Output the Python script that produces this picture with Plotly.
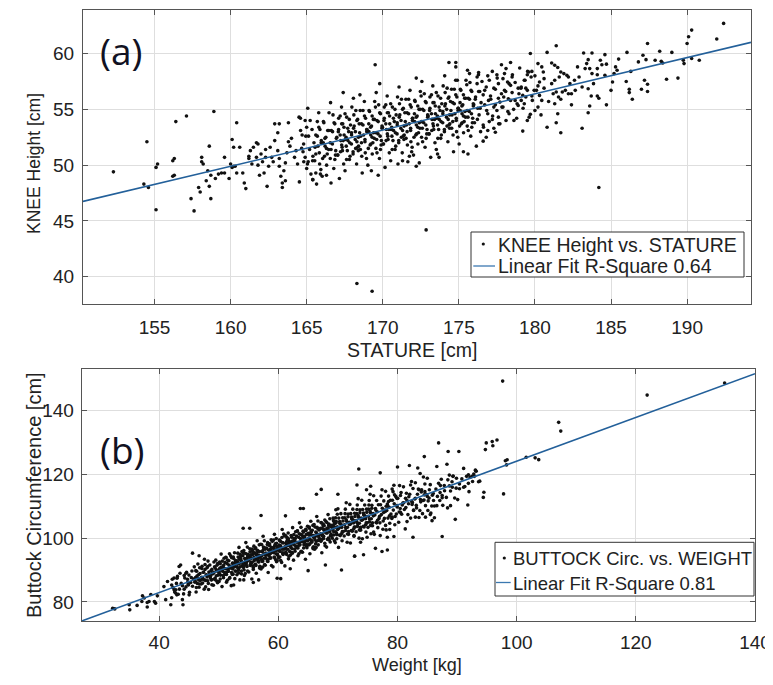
import plotly.graph_objects as go

# page is 773x685; plotly page body has an 8px margin, so the figure is 765x677 at (8, 8)
PAGE_W, PAGE_H = 773, 685
OFF = 8
W, H = PAGE_W - OFF, PAGE_H - OFF

# ---------------- Panel (a): KNEE Height vs STATURE (cm) ----------------
knee_left = [(152.3,49.4),(154.5,52.1),(154.3,48.3),(154.6,48.0),(155.1,46.0),(155.1,49.8),(155.2,50.1),(156.2,50.4),(156.3,50.6),(156.4,53.9),
 (156.2,49.0),(156.3,49.1),(157.1,54.4),(157.4,47.0),(157.6,45.9),(157.9,48.0),(158.0,47.6),(158.1,50.7),(158.1,50.3),(158.2,50.1),
 (158.4,48.6),(158.6,51.7),(158.6,48.1),(158.7,47.0),(158.9,54.8),(158.5,49.5),(158.7,49.1),(159.0,48.8),(159.2,49.2),(159.4,49.3),
 (159.6,50.7),(159.6,49.3),(159.9,48.8),(160.0,50.1),(160.1,49.8),(160.2,49.9),(160.3,49.9),(160.1,52.3),(160.2,51.6),(160.6,51.6),
 (160.4,53.8),(160.4,49.3),(160.8,49.3),(160.9,48.4),(161.0,47.9),(161.2,50.8),(161.2,50.6),(161.4,50.1),(161.3,51.3),(161.5,51.6),
 (161.7,52.0),(161.8,51.9),(161.7,50.7),(161.8,50.0),(161.9,49.1),(162.0,51.0),(162.1,50.3),(162.2,49.3),(162.3,51.4),(162.3,50.7),
 (162.5,49.9),(162.4,48.1),(162.6,51.6),(162.7,50.7),(162.8,50.3),(162.9,53.7),(163.2,53.7),(162.9,52.2),(163.1,52.9),(163.1,51.3),
 (163.2,50.6),(163.2,49.9),(163.3,49.0),(163.4,48.4),(163.4,48.0),(163.6,48.6),(163.5,49.5),(163.6,50.2),(163.7,51.1),(163.8,53.8),
 (163.8,52.1),(163.9,51.7),(164.0,52.4),(164.2,50.7),(164.3,51.3),(164.4,50.1),(164.5,54.3),(164.6,53.1),(164.7,52.7),(164.8,51.9),
 (164.9,50.7),(164.9,54.0),(165.0,53.4),(165.0,49.7),(165.1,50.3),(165.4,48.7)]

knee_core_lo = [
 (164.52,48.5),(164.81,50.3),(164.67,51.5),(164.94,52.6),(164.59,54.2),(164.76,51.2),
 (165.28,49.2),(165.05,50.1),(165.41,50.8),(165.19,51.4),(165.48,52.0),(165.12,52.6),(165.35,53.2),(165.23,54.0),(165.07,55.1),(165.39,50.4),
 (165.65,48.3),(165.93,49.6),(165.53,50.4),(165.83,51.1),(165.74,51.7),(165.96,52.2),(165.60,52.7),(165.87,53.2),(165.70,53.9),(165.79,54.7),
 (166.02,49.0),(166.31,50.0),(166.17,50.8),(166.44,51.4),(166.09,52.0),(166.26,52.5),(166.38,53.1),(166.13,53.8),(166.47,54.7),(166.21,51.7),
 (166.78,49.7),(166.55,50.6),(166.91,51.3),(166.69,51.9),(166.98,52.5),(166.62,53.1),(166.85,53.7),(166.73,54.5),(166.57,55.6),(166.89,50.9),
 (167.15,48.8),(167.43,50.1),(167.03,50.9),(167.33,51.6),(167.24,52.2),(167.46,52.7),(167.10,53.2),(167.37,53.7),(167.20,54.4),(167.29,55.2),
 (167.52,49.5),(167.81,50.5),(167.67,51.3),(167.94,51.9),(167.59,52.5),(167.76,53.0),(167.88,53.6),(167.63,54.3),(167.97,55.2),(167.71,52.2),
 (168.28,50.1),(168.05,51.0),(168.41,51.7),(168.19,52.3),(168.48,52.9),(168.12,53.5),(168.35,54.1),(168.23,54.9),(168.07,56.0),(168.39,51.3),
 (168.65,49.3),(168.93,50.6),(168.53,51.4),(168.83,52.1),(168.74,52.7),(168.96,53.2),(168.60,53.7),(168.87,54.2),(168.70,54.9),(168.79,55.7),
 (169.02,50.0),(169.31,51.0),(169.17,51.8),(169.44,52.4),(169.09,53.0),(169.26,53.5),(169.38,54.1),(169.13,54.8),(169.47,55.7),(169.21,52.7),
 (169.78,50.6),(169.55,51.5),(169.91,52.2),(169.69,52.8),(169.98,53.4),(169.62,54.0),(169.85,54.6),(169.73,55.4),(169.57,56.5),(169.89,51.8),
 (170.15,49.8),(170.43,51.1),(170.03,51.9),(170.33,52.6),(170.24,53.2),(170.46,53.7),(170.10,54.2),(170.37,54.7),(170.20,55.4),(170.29,56.2)]

knee_core_hi = [
 (170.52,50.4),(170.81,51.4),(170.67,52.2),(170.94,52.8),(170.59,53.4),(170.76,53.9),(170.88,54.5),(170.63,55.2),(170.97,56.1),(170.71,53.1),
 (171.28,51.1),(171.05,52.0),(171.41,52.7),(171.19,53.3),(171.48,53.9),(171.12,54.5),(171.35,55.1),(171.23,55.9),(171.07,57.0),(171.39,52.3),
 (171.65,50.3),(171.93,51.6),(171.53,52.4),(171.83,53.1),(171.74,53.7),(171.96,54.2),(171.60,54.7),(171.87,55.2),(171.70,55.9),(171.79,56.7),
 (172.02,50.9),(172.31,51.9),(172.17,52.7),(172.44,53.3),(172.09,53.9),(172.26,54.4),(172.38,55.0),(172.13,55.7),(172.47,56.6),(172.21,53.6),
 (172.78,51.6),(172.55,52.5),(172.91,53.2),(172.69,53.8),(172.98,54.4),(172.62,55.0),(172.85,55.6),(172.73,56.4),(172.57,57.5),(172.89,52.8),
 (173.15,50.7),(173.43,52.0),(173.03,52.8),(173.33,53.5),(173.24,54.1),(173.46,54.6),(173.10,55.1),(173.37,55.6),(173.20,56.3),(173.29,57.1),
 (173.52,51.4),(173.81,52.4),(173.67,53.2),(173.94,53.8),(173.59,54.4),(173.76,54.9),(173.88,55.5),(173.63,56.2),(173.97,57.1),(173.71,54.1),
 (174.28,52.1),(174.05,53.0),(174.41,53.7),(174.19,54.3),(174.48,54.9),(174.12,55.5),(174.35,56.1),(174.23,56.9),(174.07,58.0),(174.39,53.3),
 (174.65,51.2),(174.93,52.5),(174.53,53.3),(174.83,54.0),(174.74,54.6),(174.96,55.1),(174.60,55.6),(174.87,56.1),(174.70,56.8),(174.79,57.6),
 (175.02,51.9),(175.31,52.9),(175.17,53.7),(175.44,54.3),(175.09,54.9),(175.26,55.4),(175.38,56.0),(175.13,56.7),(175.47,57.6),(175.21,54.6),
 (175.78,52.6),(175.55,53.5),(175.91,54.2),(175.69,54.8),(175.98,55.4),(175.62,56.0),(175.85,56.6),(175.73,57.4),(175.57,58.5),(175.89,53.8),
 (176.15,51.7),(176.43,53.0),(176.03,53.8),(176.33,54.5),(176.24,55.1),(176.46,55.6),(176.10,56.1),(176.37,56.6),(176.20,57.3),(176.29,58.1)]

knee_core_mid = [
 (165.85,50.1),(165.60,51.0),(165.95,52.0),(165.70,52.6),(165.80,53.4),(165.55,51.6),
 (166.05,50.6),(166.30,51.5),(166.20,52.4),(166.45,53.1),(166.10,53.9),(166.35,51.0),
 (166.85,50.5),(166.60,51.4),(166.95,52.4),(166.70,53.0),(166.80,53.8),(166.55,52.0),
 (167.05,50.9),(167.30,51.8),(167.20,52.7),(167.45,53.4),(167.10,54.2),(167.35,51.3),
 (167.85,50.8),(167.60,51.7),(167.95,52.7),(167.70,53.3),(167.80,54.1),(167.55,52.3),
 (168.05,51.2),(168.30,52.1),(168.20,53.0),(168.45,53.7),(168.10,54.5),(168.35,51.6),
 (168.85,51.1),(168.60,52.0),(168.95,53.0),(168.70,53.6),(168.80,54.4),(168.55,52.6),
 (169.05,51.5),(169.30,52.5),(169.20,53.4),(169.45,54.1),(169.10,54.9),(169.35,52.0),
 (169.85,51.4),(169.60,52.3),(169.95,53.3),(169.70,53.9),(169.80,54.7),(169.55,52.9),
 (170.05,51.9),(170.30,52.8),(170.20,53.7),(170.45,54.4),(170.10,55.2),(170.35,52.3),
 (170.85,51.7),(170.60,52.6),(170.95,53.6),(170.70,54.2),(170.80,55.0),(170.55,53.2),
 (171.05,52.2),(171.30,53.1),(171.20,54.0),(171.45,54.7),(171.10,55.5),(171.35,52.6),
 (171.85,52.1),(171.60,53.0),(171.95,54.0),(171.70,54.6),(171.80,55.4),(171.55,53.6),
 (172.05,52.5),(172.30,53.4),(172.20,54.3),(172.45,55.0),(172.10,55.8),(172.35,52.9),
 (172.85,52.4),(172.60,53.3),(172.95,54.3),(172.70,54.9),(172.80,55.7),(172.55,53.9),
 (173.05,52.8),(173.30,53.7),(173.20,54.6),(173.45,55.3),(173.10,56.1),(173.35,53.2),
 (173.85,52.7),(173.60,53.6),(173.95,54.6),(173.70,55.2),(173.80,56.0),(173.55,54.2),
 (174.05,53.2),(174.30,54.1),(174.20,55.0),(174.45,55.7),(174.10,56.5),(174.35,53.6),
 (174.85,53.0),(174.60,53.9),(174.95,54.9),(174.70,55.5),(174.80,56.3),(174.55,54.5),
 (175.05,53.5),(175.30,54.4),(175.20,55.3),(175.45,56.0),(175.10,56.8),(175.35,53.9),
 (175.85,53.4),(175.60,54.3),(175.95,55.3),(175.70,55.9),(175.80,56.7),(175.55,54.9)]

knee_core_band = [
 (167.22,51.2),(167.40,52.2),(167.08,53.0),(167.30,53.7),(167.62,50.5),(167.83,52.0),(167.95,52.9),(167.52,54.6),
 (168.22,51.5),(168.40,52.5),(168.08,53.3),(168.30,54.0),(168.62,50.8),(168.83,52.3),(168.95,53.2),(168.52,54.9),
 (169.22,51.9),(169.40,52.9),(169.08,53.7),(169.30,54.4),(169.62,51.1),(169.83,52.6),(169.95,53.5),(169.52,55.2),
 (170.22,52.2),(170.40,53.2),(170.08,54.0),(170.30,54.7),(170.62,51.4),(170.83,52.9),(170.95,53.8),(170.52,55.5),
 (171.22,52.5),(171.40,53.5),(171.08,54.3),(171.30,55.0),(171.62,51.8),(171.83,53.3),(171.95,54.2),(171.52,55.9),
 (172.22,52.8),(172.40,53.8),(172.08,54.6),(172.30,55.3),(172.62,52.1),(172.83,53.6),(172.95,54.5),(172.52,56.2),
 (173.22,53.1),(173.40,54.1),(173.08,54.9),(173.30,55.6),(173.62,52.4),(173.83,53.9),(173.95,54.8),(173.52,56.5),
 (174.22,53.5),(174.40,54.5),(174.08,55.3),(174.30,56.0),(174.62,52.7),(174.83,54.2),(174.95,55.1),(174.52,56.8),
 (175.22,53.8),(175.40,54.8),(175.08,55.6),(175.30,56.3),(175.62,53.1),(175.83,54.6),(175.95,55.5),(175.52,57.2),
 (176.22,54.1),(176.40,55.1),(176.08,55.9),(176.30,56.6),(176.62,53.4),(176.83,54.9),(176.95,55.8),(176.52,57.5),
 (177.22,54.4),(177.40,55.4),(177.08,56.2),(177.30,56.9),(177.62,53.7),(177.83,55.2),(177.95,56.1),(177.52,57.8),
 (178.22,54.8),(178.40,55.8),(178.08,56.6),(178.30,57.3),(178.62,54.0),(178.83,55.5),(178.95,56.4),(178.52,58.1),
 (179.22,55.1),(179.40,56.1),(179.08,56.9),(179.30,57.6),(179.62,54.3),(179.83,55.8),(179.95,56.7),(179.52,58.4)]

knee_right = [(192.4,62.7),(191.95,61.3),(190.3,62.1),(190.1,61.5),(190.0,60.9),(190.3,59.55),(190.8,59.4),(189.8,59.1),(189.75,59.4),(189.0,60.1),
 (189.4,57.8),(188.65,57.7),(188.2,60.2),(188.3,59.3),(188.4,59.15),(187.9,59.4),(187.4,60.9),(187.1,59.85),(187.3,59.45),(187.2,57.6),
 (187.4,57.25),(187.0,56.8),(187.4,56.6),(186.8,59.25),(186.05,60.1),(186.3,58.4),(186.2,56.8),(186.2,56.5),(186.4,55.9),(186.0,57.5),
 (185.5,59.5),(185.4,58.5),(185.3,58.8),(185.2,58.2),(185.1,57.45),(185.0,56.7),(184.6,59.9),(184.3,59.4),(184.1,58.65),(184.1,58.1),
 (184.4,59.0),(184.7,59.05),(184.6,58.05),(184.7,55.4),(184.2,48.0),(183.75,60.05),(183.5,59.45),(183.4,59.1),(183.6,58.65),(183.75,58.2),
 (183.85,57.3),(183.5,56.85),(183.7,56.2),(184.1,56.2),(184.2,56.0),(183.6,55.3),(183.5,54.7),(183.2,60.05),(183.3,58.65),(183.1,53.3),
 (182.8,58.8),(182.9,57.9),(182.65,56.7),(182.4,56.4),(182.4,55.4),(182.2,56.4),(182.3,57.3),(182.0,56.7),(181.8,56.55),(181.7,52.9),
 (181.4,60.7),(181.7,58.35),(181.9,58.2),(182.1,58.05),(182.2,57.9),(181.1,59.15),(181.3,58.95),(181.5,58.75),(181.6,57.9),(181.3,57.6),
 (181.1,57.3),(181.2,56.4),(181.4,56.55),(181.55,56.1),(181.3,55.5),(181.5,54.6),(181.4,53.8),(180.8,53.4),(180.8,60.1),(180.2,59.1),
 (180.45,58.8),(180.55,58.35),(180.6,57.75),(180.3,57.45),(180.2,57.1),(180.1,56.7),(180.3,56.25),(180.45,55.8),(180.2,55.2),(180.0,54.9),
 (179.7,54.55),(179.7,60.0),(179.8,58.4),(179.6,58.35),(179.5,58.1),(179.75,57.9),(179.35,57.6),(179.1,57.0),(179.5,56.7),(179.2,56.25),
 (179.1,55.8),(178.9,55.35),(178.7,55.8),(179.2,53.05),(178.1,58.65),(178.0,58.2),(177.9,57.75),(178.2,57.45),(178.4,57.15),(178.0,56.7),
 (177.8,56.4),(178.25,55.95),(177.7,55.65),(177.9,55.2),(177.5,54.9),(177.6,54.3),(177.7,53.7),(177.4,52.95),(176.9,53.1),(176.8,52.5),
 (176.6,52.15),(177.2,58.4),(177.5,58.1),(177.0,57.6),(176.8,57.0),(177.4,56.8),(176.6,56.3),(177.1,55.9),(176.7,55.4),(177.3,55.2),
 (176.9,54.6),(177.2,54.1),(176.6,53.6),(177.0,53.9),(177.6,56.0),(178.5,56.5),(178.6,55.0),(178.3,54.6),(178.9,56.9),(179.3,55.5),
 (179.8,56.2),(180.6,56.9),(180.9,55.7),(181.7,55.9),(182.6,57.6),(183.1,57.0),(178.7,57.4),(179.0,58.7),(178.4,59.2),(177.8,59.0),
 (176.9,58.0),(177.3,53.3),(178.1,54.0),(178.8,54.2),(179.5,54.0),(180.4,54.5),(176.7,56.7),(177.6,57.3),(178.5,57.9),(179.4,56.9),(180.0,58.0)]

knee_outliers = [(169.5,59.0),(169.8,57.3),(167.4,56.5),(168.5,56.3),(172.2,57.8),(174.35,59.2),(174.8,59.2),(174.8,58.8),(174.9,57.6),(175.7,58.2),
 (176.2,57.9),(176.3,58.3),(172.85,44.2),(168.3,39.4),(169.3,38.7),(166.6,48.4),(165.4,48.7),(165.6,49.3),(165.9,49.2),(166.3,49.1),
 (169.25,49.5),(169.7,49.1),(171.0,50.1),(171.3,50.4),(172.2,49.9),(172.4,50.2),(173.6,51.0),(173.7,50.7),(175.3,51.2),(175.6,51.0),
 (171.75,50.8),(171.9,51.2)]

fit_a_x = [150.3, 194.2]
fit_a_y = [46.75, 61.0]

# ---------------- Panel (b): Buttock Circumference (cm) vs Weight (kg) ----------------
buttock_low = [(32.2,78.0),(32.55,77.8),(34.96,79.1),(35.07,77.5),(37.2,81.9),(37.5,81.2),(37.1,80.1),(38.0,79.8),(38.0,78.4),(38.3,80.1),
 (39.4,79.6),(39.7,81.9),(40.8,84.8),(41.1,80.7),(41.95,79.1),(41.4,86.4),(42.2,87.1),(42.1,85.3),(42.5,83.8),(42.8,82.7),
 (42.96,82.2),(43.35,91.1),(43.6,91.6),(43.07,88.0),(43.9,80.7),(44.0,79.1),(44.2,84.0),(44.5,89.0),(44.75,87.1),(44.9,85.3),
 (45.03,82.2),(45.6,95.3),(46.7,94.5),(36.3,78.9),(38.6,82.3),(39.2,80.1),
 (42.1,81.3),(42.6,83.1),(42.3,84.5),(42.9,85.8),(42.5,87.5),(42.8,83.8),
 (43.2,82.4),(43.7,85.8),(43.4,84.0),(43.0,87.4),(43.9,85.1),(43.5,89.0),
 (44.1,82.5),(44.5,84.7),(44.8,86.2),(44.3,87.5),(44.6,89.3),(44.9,85.5),(44.2,88.3),
 (45.1,83.0),(45.6,84.9),(45.3,86.1),(45.8,87.2),(45.0,88.4),(45.5,89.7),(45.9,91.0),(45.4,87.6)]

buttock_core_40s = [
 (46.2,83.1),(46.7,84.6),(46.4,85.8),(46.9,86.7),(46.1,87.6),(46.6,88.5),(46.3,89.6),(46.8,90.7),(46.5,91.9),(46.0,86.2),
 (47.55,84.0),(47.05,85.6),(47.8,86.7),(47.3,87.6),(47.95,88.4),(47.45,89.3),(47.15,90.5),(47.7,91.7),(47.25,87.1),(47.6,93.4),
 (48.3,83.9),(48.85,85.4),(48.15,86.6),(48.6,87.5),(48.4,88.3),(48.95,89.0),(48.7,89.8),(48.05,90.7),(48.5,91.6),(48.2,92.8),(48.8,87.0),(48.45,88.6),
 (49.1,85.2),(49.7,86.5),(49.4,87.5),(49.9,88.4),(49.2,89.3),(49.6,90.1),(49.3,91.0),(49.8,92.0),(49.5,93.1),(49.0,88.8),(49.65,89.7),(49.35,87.0),
 (50.55,84.8),(50.05,86.4),(50.8,87.6),(50.3,88.4),(50.95,89.2),(50.45,89.9),(50.15,90.5),(50.7,91.2),(50.25,92.0),(50.6,92.8),(50.9,93.7),(50.4,95.0),(50.1,88.8),(50.75,90.7),
 (51.3,86.2),(51.85,87.6),(51.15,88.7),(51.6,89.6),(51.4,90.3),(51.95,90.9),(51.7,91.6),(51.05,92.4),(51.5,93.1),(51.2,94.0),(51.8,95.1),(51.45,86.8),(51.65,90.5),(51.25,89.2)]

buttock_core_50s = [
 (52.10,85.1),(52.70,87.3),(52.40,88.7),(52.90,89.6),(52.20,90.8),(52.60,91.5),(52.30,92.1),(52.80,92.8),(52.50,93.6),(52.00,94.5),(52.65,95.4),(52.35,90.3),(52.85,92.4),(52.15,89.2),(52.55,91.8),(52.45,94.1),
 (53.55,86.9),(53.05,88.5),(53.80,89.7),(53.30,90.5),(53.95,91.3),(53.45,92.0),(53.15,92.6),(53.70,93.3),(53.25,94.1),(53.60,94.9),(53.90,95.8),(53.40,97.1),(53.10,90.9),(53.75,92.8),(53.35,89.1),(53.65,93.7),
 (54.30,88.3),(54.85,89.7),(54.15,90.8),(54.60,91.7),(54.40,92.4),(54.95,93.0),(54.70,93.7),(54.05,94.5),(54.50,95.2),(54.20,96.1),(54.80,97.2),(54.45,88.9),(54.65,92.6),(54.25,91.3),(54.90,94.9),(54.55,98.6),
 (55.55,87.2),(55.05,89.4),(55.80,90.8),(55.30,91.7),(55.95,92.9),(55.45,93.6),(55.15,94.2),(55.70,94.9),(55.25,95.7),(55.60,96.6),(55.90,97.5),(55.40,92.4),(55.10,94.5),(55.75,91.3),(55.35,93.9),(55.65,96.2),
 (56.30,89.0),(56.85,90.6),(56.15,91.8),(56.60,92.6),(56.40,93.4),(56.95,94.1),(56.70,94.7),(56.05,95.4),(56.50,96.2),(56.20,97.0),(56.80,97.9),(56.45,99.2),(56.65,93.0),(56.25,94.9),(56.90,91.2),(56.55,95.8),
 (57.10,90.3),(57.70,91.7),(57.40,92.8),(57.90,93.7),(57.20,94.4),(57.60,95.0),(57.30,95.7),(57.80,96.5),(57.50,97.2),(57.00,98.1),(57.65,99.2),(57.35,90.9),(57.85,94.6),(57.15,93.3),(57.55,96.9),(57.45,100.6),
 (58.30,89.2),(58.85,91.4),(58.15,92.8),(58.60,93.7),(58.40,94.9),(58.95,95.6),(58.70,96.2),(58.05,96.9),(58.50,97.7),(58.20,98.6),(58.80,99.5),(58.45,94.4),(58.65,96.5),(58.25,93.3),(58.90,95.9),(58.55,98.2),
 (59.10,91.0),(59.70,92.6),(59.40,93.8),(59.90,94.6),(59.20,95.4),(59.60,96.1),(59.30,96.7),(59.80,97.4),(59.50,98.2),(59.00,99.0),(59.65,99.9),(59.35,101.2),(59.85,95.0),(59.15,96.9),(59.55,93.2),(59.45,97.8)]

buttock_core_60s = [
 (60.55,92.4),(60.05,93.8),(60.80,94.9),(60.30,95.8),(60.95,96.5),(60.45,97.1),(60.15,97.8),(60.70,98.6),(60.25,99.3),(60.60,100.2),(60.90,101.3),(60.40,93.0),(60.10,96.7),(60.75,95.4),(60.35,99.0),(60.65,102.7),
 (61.10,91.3),(61.70,93.5),(61.40,94.9),(61.90,95.8),(61.20,97.0),(61.60,97.7),(61.30,98.3),(61.80,99.0),(61.50,99.8),(61.00,100.7),(61.65,101.6),(61.35,96.5),(61.85,98.6),(61.15,95.4),(61.55,98.0),(61.45,100.3),
 (62.55,93.1),(62.05,94.7),(62.80,95.9),(62.30,96.7),(62.95,97.5),(62.45,98.2),(62.15,98.8),(62.70,99.5),(62.25,100.3),(62.60,101.1),(62.90,102.0),(62.40,103.3),(62.10,97.1),(62.75,99.0),(62.35,95.3),(62.65,99.9),
 (63.30,94.5),(63.85,95.9),(63.15,97.0),(63.60,97.9),(63.40,98.6),(63.95,99.2),(63.70,99.9),(63.05,100.7),(63.50,101.4),(63.20,102.3),(63.80,103.4),(63.45,95.1),(63.65,98.8),(63.25,97.5),(63.90,101.1),(63.55,104.8),
 (64.55,93.4),(64.05,95.6),(64.80,97.0),(64.30,97.9),(64.95,99.1),(64.45,99.8),(64.15,100.4),(64.70,101.1),(64.25,101.9),(64.60,102.8),(64.90,103.7),(64.40,98.6),(64.10,100.7),(64.75,97.5),(64.35,100.1),(64.65,102.4),
 (65.30,95.1),(65.85,96.7),(65.15,97.9),(65.60,98.7),(65.40,99.5),(65.95,100.2),(65.70,100.8),(65.05,101.5),(65.50,102.3),(65.20,103.1),(65.80,104.0),(65.45,105.3),(65.65,99.1),(65.25,101.0),(65.90,97.3),(65.55,101.9),
 (66.10,96.5),(66.70,97.9),(66.40,99.0),(66.90,99.9),(66.20,100.6),(66.60,101.2),(66.30,101.9),(66.80,102.7),(66.50,103.4),(66.00,104.3),(66.65,105.4),(66.35,97.1),(66.85,100.8),(66.15,99.5),(66.55,103.1),(66.45,106.8),
 (67.30,95.4),(67.85,97.6),(67.15,99.0),(67.60,99.9),(67.40,101.1),(67.95,101.8),(67.70,102.4),(67.05,103.1),(67.50,103.9),(67.20,104.8),(67.80,105.7),(67.45,100.6),(67.65,102.7),(67.25,99.5),(67.90,102.1),(67.55,104.4),
 (68.10,97.2),(68.70,98.8),(68.40,100.0),(68.90,100.8),(68.20,101.6),(68.60,102.3),(68.30,102.9),(68.80,103.6),(68.50,104.4),(68.00,105.2),(68.65,106.1),(68.35,107.4),(68.85,101.2),(68.15,103.1),(68.55,99.4),(68.45,104.0),
 (69.55,98.6),(69.05,100.0),(69.80,101.1),(69.30,102.0),(69.95,102.7),(69.45,103.3),(69.15,104.0),(69.70,104.8),(69.25,105.5),(69.60,106.4),(69.90,107.5),(69.40,99.2),(69.10,102.9),(69.75,101.6),(69.35,105.2),(69.65,108.9)]

buttock_core_70s = [
 (70.1,97.1),(70.7,99.2),(70.4,100.8),(70.9,102.1),(70.2,103.2),(70.6,104.2),(70.3,105.2),(70.8,106.4),(70.5,107.7),(70.0,109.2),(70.65,101.5),(70.35,104.7),
 (71.55,98.7),(71.05,100.7),(71.8,102.1),(71.3,103.3),(71.95,104.3),(71.45,105.3),(71.15,106.4),(71.7,107.6),(71.25,109.1),(71.6,101.3),(71.9,104.7),(71.4,111.1),
 (72.1,98.5),(72.7,100.6),(72.4,102.2),(72.9,103.5),(72.2,104.6),(72.6,105.6),(72.3,106.6),(72.8,107.8),(72.5,109.1),(72.0,110.6),(72.65,102.9),(72.35,106.1),
 (73.55,100.0),(73.05,102.0),(73.8,103.4),(73.3,104.6),(73.95,105.6),(73.45,106.6),(73.15,107.7),(73.7,108.9),(73.25,110.4),(73.6,102.6),(73.9,106.0),(73.4,112.4),
 (74.1,99.8),(74.7,101.9),(74.4,103.5),(74.9,104.8),(74.2,105.9),(74.6,106.9),(74.3,107.9),(74.8,109.1),(74.5,110.4),(74.0,111.9),(74.65,104.2),(74.35,107.4),
 (75.55,101.4),(75.05,103.4),(75.8,104.8),(75.3,106.0),(75.95,107.0),(75.45,108.0),(75.15,109.1),(75.7,110.3),(75.25,111.8),(75.6,104.0),(75.9,107.4),(75.4,113.8),
 (76.1,101.2),(76.7,103.3),(76.4,104.9),(76.9,106.2),(76.2,107.3),(76.6,108.3),(76.3,109.3),(76.8,110.5),(76.5,111.8),(76.0,113.3),(76.65,105.6),(76.35,108.8),
 (77.55,102.8),(77.05,104.8),(77.8,106.2),(77.3,107.4),(77.95,108.4),(77.45,109.4),(77.15,110.5),(77.7,111.7),(77.25,113.2),(77.6,105.4),(77.9,108.8),(77.4,115.2),
 (78.1,102.6),(78.7,104.7),(78.4,106.3),(78.9,107.6),(78.2,108.7),(78.6,109.7),(78.3,110.7),(78.8,111.9),(78.5,113.2),(78.0,114.7),(78.65,107.0),(78.35,110.2),
 (79.55,104.2),(79.05,106.2),(79.8,107.6),(79.3,108.8),(79.95,109.8),(79.45,110.8),(79.15,111.9),(79.7,113.1),(79.25,114.6),(79.6,106.8),(79.9,110.2),(79.4,116.6)]

buttock_core_band = [
 (46.25,84.5),(46.75,85.6),(46.05,86.5),(46.55,87.3),(46.35,88.1),(46.85,88.9),(46.15,89.8),(46.65,86.9),
 (47.80,84.7),(47.30,85.9),(47.60,86.9),(47.10,87.7),(47.90,88.5),(47.40,89.3),(47.70,90.2),(47.20,91.2),
 (48.25,85.8),(48.75,86.9),(48.05,87.8),(48.55,88.6),(48.35,89.4),(48.85,90.2),(48.15,91.1),(48.65,88.2),
 (49.80,86.0),(49.30,87.2),(49.60,88.2),(49.10,89.0),(49.90,89.8),(49.40,90.6),(49.70,91.5),(49.20,92.5),
 (50.25,87.2),(50.75,88.3),(50.05,89.2),(50.55,90.0),(50.35,90.8),(50.85,91.6),(50.15,92.5),(50.65,89.6),
 (51.80,87.4),(51.30,88.6),(51.60,89.6),(51.10,90.4),(51.90,91.2),(51.40,92.0),(51.70,92.9),(51.20,93.9),
 (52.25,88.6),(52.75,89.7),(52.05,90.6),(52.55,91.4),(52.35,92.2),(52.85,93.0),(52.15,93.9),(52.65,91.0),
 (53.80,88.8),(53.30,90.0),(53.60,91.0),(53.10,91.8),(53.90,92.6),(53.40,93.4),(53.70,94.3),(53.20,95.3),
 (54.25,90.0),(54.75,91.1),(54.05,92.0),(54.55,92.8),(54.35,93.6),(54.85,94.4),(54.15,95.3),(54.65,92.4),
 (55.80,90.2),(55.30,91.4),(55.60,92.4),(55.10,93.2),(55.90,94.0),(55.40,94.8),(55.70,95.7),(55.20,96.7),
 (56.25,91.4),(56.75,92.5),(56.05,93.4),(56.55,94.2),(56.35,95.0),(56.85,95.8),(56.15,96.7),(56.65,93.8),
 (57.80,91.5),(57.30,92.7),(57.60,93.7),(57.10,94.5),(57.90,95.3),(57.40,96.1),(57.70,97.0),(57.20,98.0),
 (58.25,92.7),(58.75,93.8),(58.05,94.7),(58.55,95.5),(58.35,96.3),(58.85,97.1),(58.15,98.0),(58.65,95.1),
 (59.80,92.9),(59.30,94.1),(59.60,95.1),(59.10,95.9),(59.90,96.7),(59.40,97.5),(59.70,98.4),(59.20,99.4),
 (60.25,94.1),(60.75,95.2),(60.05,96.1),(60.55,96.9),(60.35,97.7),(60.85,98.5),(60.15,99.4),(60.65,96.5),
 (61.80,94.3),(61.30,95.5),(61.60,96.5),(61.10,97.3),(61.90,98.1),(61.40,98.9),(61.70,99.8),(61.20,100.8),
 (62.25,95.5),(62.75,96.6),(62.05,97.5),(62.55,98.3),(62.35,99.1),(62.85,99.9),(62.15,100.8),(62.65,97.9),
 (63.80,95.7),(63.30,96.9),(63.60,97.9),(63.10,98.7),(63.90,99.5),(63.40,100.3),(63.70,101.2),(63.20,102.2),
 (64.25,96.9),(64.75,98.0),(64.05,98.9),(64.55,99.7),(64.35,100.5),(64.85,101.3),(64.15,102.2),(64.65,99.3),
 (65.80,97.0),(65.30,98.2),(65.60,99.2),(65.10,100.0),(65.90,100.8),(65.40,101.6),(65.70,102.5),(65.20,103.5),
 (66.25,98.2),(66.75,99.3),(66.05,100.2),(66.55,101.0),(66.35,101.8),(66.85,102.6),(66.15,103.5),(66.65,100.6),
 (67.80,98.4),(67.30,99.6),(67.60,100.6),(67.10,101.4),(67.90,102.2),(67.40,103.0),(67.70,103.9),(67.20,104.9),
 (68.25,99.6),(68.75,100.7),(68.05,101.6),(68.55,102.4),(68.35,103.2),(68.85,104.0),(68.15,104.9),(68.65,102.0),
 (69.80,99.8),(69.30,101.0),(69.60,102.0),(69.10,102.8),(69.90,103.6),(69.40,104.4),(69.70,105.3),(69.20,106.3),
 (70.25,101.0),(70.75,102.1),(70.05,103.0),(70.55,103.8),(70.35,104.6),(70.85,105.4),(70.15,106.3),(70.65,103.4),
 (71.80,101.2),(71.30,102.4),(71.60,103.4),(71.10,104.2),(71.90,105.0),(71.40,105.8),(71.70,106.7),(71.20,107.7),
 (72.25,102.4),(72.75,103.5),(72.05,104.4),(72.55,105.2),(72.35,106.0),(72.85,106.8),(72.15,107.7),(72.65,104.8),
 (73.80,102.5),(73.30,103.7),(73.60,104.7),(73.10,105.5),(73.90,106.3),(73.40,107.1),(73.70,108.0),(73.20,109.0),
 (74.25,103.7),(74.75,104.8),(74.05,105.7),(74.55,106.5),(74.35,107.3),(74.85,108.1),(74.15,109.0),(74.65,106.1),
 (75.80,103.9),(75.30,105.1),(75.60,106.1),(75.10,106.9),(75.90,107.7),(75.40,108.5),(75.70,109.4),(75.20,110.4)]

buttock_core_80s = [
 (80.2,105.0),(80.7,107.5),(80.45,109.3),(80.9,111.0),(80.05,112.5),(80.6,114.3),(80.35,116.5),
 (81.6,105.2),(81.15,109.0),(81.85,110.8),(81.35,112.5),(81.5,114.1),(81.0,116.1),(81.75,107.4),
 (82.2,106.3),(82.7,108.8),(82.45,110.6),(82.9,112.3),(82.05,113.8),(82.6,115.6),(82.35,117.8),
 (83.6,106.5),(83.15,110.3),(83.85,112.1),(83.35,113.8),(83.5,115.4),(83.0,117.4),(83.75,108.7),
 (84.2,107.7),(84.7,110.2),(84.45,112.0),(84.9,113.7),(84.05,115.2),(84.6,117.0),(84.35,119.2),
 (85.6,107.9),(85.15,111.7),(85.85,113.5),(85.35,115.2),(85.5,116.8),(85.0,118.8),(85.75,110.1),
 (86.2,110.1),(86.7,113.1),(86.45,115.4),(86.9,117.2),(86.05,111.8),
 (87.6,110.3),(87.15,114.3),(87.85,116.5),(87.35,118.5),(87.5,112.7),
 (88.2,112.8),(88.7,116.4),(88.45,118.3),(88.9,114.8),
 (89.6,112.6),(89.15,117.7),(89.85,115.7),(89.35,119.5),
 (90.4,115.5),(90.8,118.6),(91.3,116.2),(91.9,119.9),(92.6,117.8),(93.2,121.0),(90.1,112.1),(92.0,114.6),
 (80.3,108.2),(80.8,110.4),(81.4,109.6),(81.9,113.0),(82.5,111.2),(83.2,109.5),(83.9,111.4),(84.6,114.6),(85.3,112.6),(86.0,114.0)]

buttock_outliers = [(67.2,115.3),(66.4,113.8),(70.0,113.8),(73.5,121.7),(73.2,116.7),(57.1,107.1),(61.2,107.0),(54.1,103.1),(55.2,103.1),(63.7,109.3),
 (64.2,109.3),(55.8,86.1),(59.8,87.4),(60.4,87.3),(65.0,89.8),(67.9,91.6),(70.6,90.0),(72.8,94.4),(52.5,85.3),(54.2,86.9),
 (56.7,86.9),(62.0,90.4),(79.4,100.5),(78.3,96.3),(74.3,94.8),
 (86.9,129.9),(88.5,127.2),(90.3,127.2),(84.5,125.6),(77.1,120.5),(80.0,122.35),(82.0,122.8),(83.4,122.0),(83.8,120.3),(86.6,122.5),
 (88.3,123.2),(88.7,119.8),(89.3,119.4),(89.9,118.8),(91.1,121.9),(91.6,119.4),(92.8,120.1),(93.1,121.2),(93.6,117.7),(91.8,110.4),
 (89.7,105.9),(87.5,100.5),(82.6,100.3),(76.3,96.8),(77.4,95.8),(72.8,94.3),(88.9,110.2),(88.4,109.5),(85.5,107.4),(84.7,106.6),
 (86.2,106.4),(85.1,108.7),(86.6,110.2),(87.1,111.8),(87.5,113.4),(87.9,114.9),(89.2,116.0),(90.4,117.0),(91.1,116.0),(91.9,117.2),
 (87.2,116.5),(84.3,111.8),(84.5,113.6),(85.0,113.1),(84.0,114.5),(83.6,115.2),(83.0,112.5),(82.4,111.5),(82.2,116.7),(81.6,111.8),
 (81.05,111.1),(80.5,113.4),(79.9,112.5),(79.5,113.6),(79.1,115.4),(78.5,111.5),(78.1,110.0),(77.7,108.1),(77.0,106.9),(76.5,104.8),
 (75.5,116.3),(74.8,115.2),(81.3,102.9),(83.0,106.6),(85.8,105.5),(82.7,108.7),(80.5,108.1),(79.1,106.6),(78.0,104.0),(78.7,102.7),
 (76.0,101.9),(74.9,100.3),(73.8,102.9),(73.2,105.0),(72.7,100.8),(73.8,98.7),(75.5,104.0),(77.1,100.8),(78.3,100.3),
 (97.65,149.3),(121.9,144.9),(134.9,148.7),(107.05,136.35),(107.4,133.6),(94.9,129.9),(94.75,127.8),(95.9,130.3),(96.0,129.0),(96.7,130.8),
 (98.1,124.3),(98.4,124.6),(98.3,123.0),(101.6,125.4),(103.1,125.2),(103.7,124.65),(93.07,121.4),(92.9,119.4),(92.5,119.4),(92.2,119.1),
 (93.8,117.9),(94.5,114.4),(94.4,112.8),(97.8,113.9)]

fit_b_x = [27.0, 140.0]
fit_b_y = [74.0, 151.6]

# tick values
ticks_a_x = [155, 160, 165, 170, 175, 180, 185, 190]
ticks_a_y = [40, 45, 50, 55, 60]
ticks_b_x = [40, 60, 80, 100, 120, 140]
ticks_b_y = [80, 100, 120, 140]


def unzip(*groups):
    xs, ys = [], []
    for g in groups:
        for x, y in g:
            xs.append(x)
            ys.append(y)
    return xs, ys


ax_x, ax_y = unzip(knee_left, knee_core_lo, knee_core_hi, knee_core_mid, knee_core_band, knee_right, knee_outliers)
bx_x, bx_y = unzip(buttock_low, buttock_core_40s, buttock_core_50s, buttock_core_60s,
                   buttock_core_70s, buttock_core_band, buttock_core_80s, buttock_outliers)

FONT = "Liberation Sans, Arial, Helvetica, sans-serif"
DOT = "#111111"
LINE = "#23609a"
AXC = "#555555"
GRID = "#dedede"
MSIZE = 3.6

fig = go.Figure()
fig.add_trace(go.Scatter(x=ax_x, y=ax_y, mode="markers", xaxis="x", yaxis="y",
                         marker=dict(size=MSIZE, color=DOT, line=dict(width=0)),
                         name="KNEE Height vs. STATURE"))
fig.add_trace(go.Scatter(x=fit_a_x, y=fit_a_y, mode="lines", xaxis="x", yaxis="y",
                         line=dict(color=LINE, width=1.6), name="Linear Fit R-Square 0.64"))
fig.add_trace(go.Scatter(x=bx_x, y=bx_y, mode="markers", xaxis="x2", yaxis="y2",
                         marker=dict(size=MSIZE, color=DOT, line=dict(width=0)),
                         name="BUTTOCK Circ. vs. WEIGHT"))
fig.add_trace(go.Scatter(x=fit_b_x, y=fit_b_y, mode="lines", xaxis="x2", yaxis="y2",
                         line=dict(color=LINE, width=1.6), name="Linear Fit R-Square 0.81"))


def px(v):
    """page x pixel -> paper coordinate"""
    return (v - OFF) / W


def py(v):
    """page y pixel -> paper coordinate"""
    return 1 - (v - OFF) / H


def axis(rng, dom, tv, anchor, standoff):
    return dict(range=rng, domain=dom, tickvals=tv, anchor=anchor,
                showline=True, linecolor=AXC, linewidth=1, mirror="ticks",
                ticks="inside", ticklen=5, tickcolor=AXC, tickwidth=1,
                showgrid=True, gridcolor=GRID, gridwidth=1, zeroline=False,
                tickfont=dict(family=FONT, size=19, color="#222222"),
                ticklabelstandoff=standoff, automargin=False)


fig.update_layout(
    width=W, height=H, margin=dict(l=0, r=0, t=0, b=0),
    paper_bgcolor="white", plot_bgcolor="white", showlegend=False,
    xaxis=axis([150.3, 194.2], [px(83), px(751)], ticks_a_x, "y", 6),
    yaxis=axis([37.56, 63.9], [py(304), py(10)], ticks_a_y, "x", 4),
    xaxis2=axis([27.0, 140.0], [px(81.7), px(755)], ticks_b_x, "y2", 4),
    yaxis2=axis([74.0, 153.0], [py(621), py(369.3)], ticks_b_y, "x2", 3),
)

ann = []


def text(t, x, y, size, xanchor="center", angle=0, family=FONT, color="#222222"):
    ann.append(dict(text=t, x=px(x), y=py(y), xref="paper", yref="paper", showarrow=False,
                    xanchor=xanchor, yanchor="middle", textangle=angle,
                    font=dict(family=family, size=size, color=color)))


text("(a)", 121, 50, 37, family="Open Sans, Lato, sans-serif", color="#111122")
text("(b)", 122, 449, 37, family="Open Sans, Lato, sans-serif", color="#111122")
text("STATURE [cm]", 412, 350, 19.5)
text("Weight [kg]", 417, 665, 18)
text("KNEE Height [cm]", 34, 164, 17.5, angle=-90)
text("Buttock Circumference [cm]", 34, 495, 20, angle=-90)
# legend texts
text("KNEE Height vs. STATURE", 495.5, 245, 19.5, xanchor="left")
text("Linear Fit R-Square 0.64", 495.5, 266.5, 19.5, xanchor="left")
text("BUTTOCK Circ. vs. WEIGHT", 510.5, 558, 18.5, xanchor="left")
text("Linear Fit R-Square 0.81", 510.5, 583, 18.5, xanchor="left")

shapes = []


def rect(x0, y0, x1, y1):
    shapes.append(dict(type="rect", xref="paper", yref="paper", x0=px(x0), x1=px(x1), y0=py(y1), y1=py(y0),
                       line=dict(color="#333333", width=1), fillcolor="white", layer="above"))


def seg(x0, x1, y):
    shapes.append(dict(type="line", xref="paper", yref="paper", x0=px(x0), x1=px(x1), y0=py(y), y1=py(y),
                       line=dict(color="#3b78b0", width=1.3), layer="above"))


def dot(x, y, r=1.6):
    shapes.append(dict(type="circle", xref="paper", yref="paper", x0=px(x - r), x1=px(x + r),
                       y0=py(y + r), y1=py(y - r), fillcolor=DOT, line=dict(width=0), layer="above"))


rect(471, 232, 744, 277)
dot(483.3, 244)
seg(473.3, 495, 266)
rect(495, 542.3, 754, 596)
dot(504.3, 558)
seg(496, 510.7, 582.5)

fig.update_layout(annotations=ann, shapes=shapes)
fig.write_html("out.html")
